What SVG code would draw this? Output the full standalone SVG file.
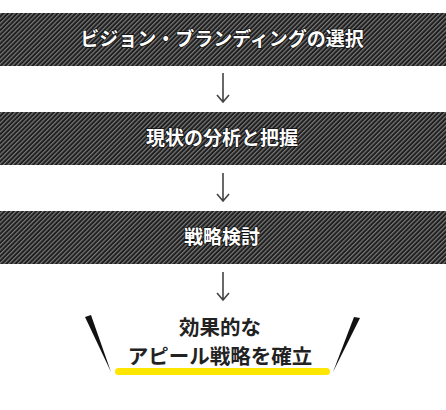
<svg xmlns="http://www.w3.org/2000/svg" width="446" height="410" viewBox="0 0 446 410">
<style>
.bx{fill:url(#stripe);}
.bt{font-family:"Noto Sans CJK JP","Noto Sans",sans-serif;font-weight:bold;font-size:19px;fill:#fff;text-anchor:middle;paint-order:stroke;stroke:#111;stroke-width:1.5px;}
.ft{font-family:"Noto Sans CJK JP","Noto Sans",sans-serif;font-weight:bold;font-size:20.5px;fill:#222;text-anchor:middle;}
.ar{stroke:#444;stroke-width:1.6;fill:none;}
</style>
<defs>
<pattern id="stripe" width="3.2" height="3.2" patternUnits="userSpaceOnUse" patternTransform="rotate(45)">
<rect width="3.2" height="3.2" fill="#1e1e1e"/>
<rect width="1.2" height="3.2" fill="#7a7a7a"/>
</pattern>
</defs>
<g id="node1"><rect class="bx" x="0" y="13" width="446" height="53"/><text class="bt" x="222" y="46">ビジョン・ブランディングの選択</text></g>
<g id="node2"><rect class="bx" x="0" y="112" width="446" height="53"/><text class="bt" x="222" y="145">現状の分析と把握</text></g>
<g id="node3"><rect class="bx" x="0" y="211" width="446" height="53"/><text class="bt" x="222" y="244">戦略検討</text></g>
<g id="node4">
<polygon points="85,317 91,315 111,372" fill="#111"/>
<polygon points="354,317 360,318 333,372" fill="#111"/>
<rect x="115" y="368" width="215" height="7" rx="3.5" fill="#ffe600"/>
<text class="ft" x="220" y="335">効果的な</text>
<text class="ft" x="220" y="364">アピール戦略を確立</text>
</g>
<g id="connectors">
<path class="ar" d="M223 73V101M217 95L223 102L229 95"/>
<path class="ar" d="M223 173V200M217 194L223 201L229 194"/>
<path class="ar" d="M223 272V299M217 293L223 300L229 293"/>
</g>
</svg>
